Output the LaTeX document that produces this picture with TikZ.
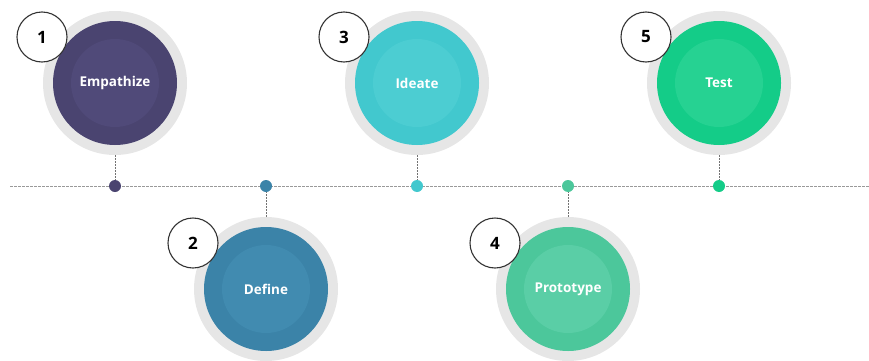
\documentclass[tikz,border=0pt]{standalone}
\usepackage{fontspec}
\setmainfont{Open Sans}
\usetikzlibrary{positioning}

\definecolor{ringgray}{HTML}{E6E6E6}
\definecolor{lineA}{HTML}{4A4470}\definecolor{lineAl}{HTML}{504A79}
\definecolor{lineB}{HTML}{3B83A8}\definecolor{lineBl}{HTML}{418BB0}
\definecolor{lineC}{HTML}{42C8CE}\definecolor{lineCl}{HTML}{4CCDD2}
\definecolor{lineD}{HTML}{4CC79B}\definecolor{lineDl}{HTML}{5ACEA6}
\definecolor{lineE}{HTML}{14CC88}\definecolor{lineEl}{HTML}{26D292}

\tikzset{
  ring/.style={circle,fill=ringgray,minimum size=144pt,inner sep=0pt},
  disk/.style={circle,minimum size=124pt,inner sep=0pt},
  core/.style={circle,minimum size=88pt,inner sep=0pt,text=white,
    font=\bfseries\fontsize{13.5}{15}\selectfont},
  badge/.style={circle,draw=black!80,line width=1.1pt,fill=white,
    minimum size=50pt,inner sep=0pt,font=\bfseries\fontsize{17}{18}\selectfont},
  dot/.style={circle,minimum size=12pt,inner sep=0pt},
  link/.style={draw=black!55,line width=0.7pt,dash pattern=on 2pt off 1pt},
  axis/.style={draw=black!40,line width=0.9pt,dash pattern=on 3pt off 1pt}
}

\begin{document}
\begin{tikzpicture}[x=1pt,y=1pt]
\useasboundingbox (0,0) rectangle (869,360);
% time line
\coordinate (start) at (10,174);
\coordinate (end) at (869,174);
\draw[axis] (start) -- (end);
% the five stages
\foreach \n/\x/\y/\txt/\col in {1/115/277/Empathize/lineA,2/266/71/Define/lineB,
  3/417/277/Ideate/lineC,4/568/71/Prototype/lineD,5/719/277/Test/lineE}
{
\node[ring] (r\n) at (\x,\y) {};
\node[disk,fill=\col] (d\n) at (r\n) {};
\node[core,fill=\col l] (s\n) at (r\n) {\txt};
\node[badge] (b\n) at ([shift={(-73,46)}]r\n.center) {\n};
\node[dot,fill=\col] (p\n) at (\x,174) {};
\draw[link] (r\n) -- (p\n);
}
\end{tikzpicture}
\end{document}
